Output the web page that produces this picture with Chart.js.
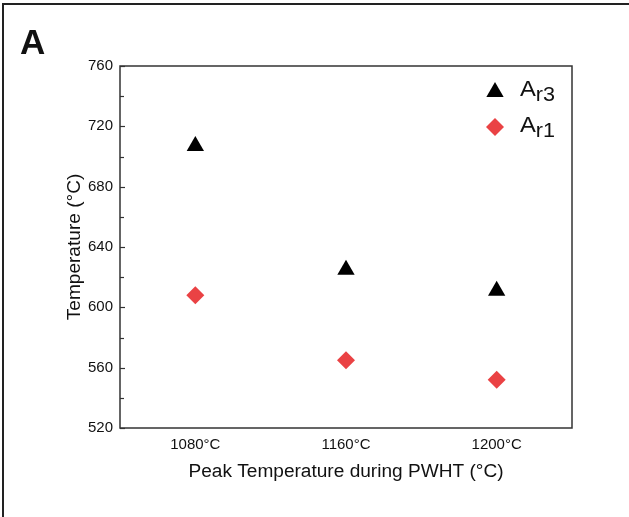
<!DOCTYPE html>
<html>
<head>
<meta charset="utf-8">
<script src="https://cdn.jsdelivr.net/npm/chart.js@4/dist/chart.umd.min.js"></script>
<style>
  html, body { margin: 0; padding: 0; background: #fff; }
  #wrap { width: 629px; height: 517px; position: relative; }
</style>
</head>
<body>
<div id="wrap"><canvas id="myChart" width="629" height="517"></canvas></div>
<script>
// peak temperatures and transformation points (°C)
var peakTemps = ['1080°C', '1160°C', '1200°C'];
var ar3 = [707, 625, 611];
var ar1 = [608, 565, 552];
var yTicks = [520, 560, 600, 640, 680, 720, 760];

var FONT = '"Liberation Sans", Arial, sans-serif';
var RED = '#ea4244';

// text drawn slightly widened, like the original export
function wideText(ctx, str, x, y, sx) {
    ctx.save();
    ctx.translate(x, y);
    ctx.scale(sx, 1);
    ctx.fillText(str, 0, 0);
    ctx.restore();
}

// frame, inward ticks, titles, panel letter and the in-plot key
var decorations = {
    id: 'decorations',
    afterDraw: function (chart) {
        var ctx = chart.ctx;
        var area = chart.chartArea;
        var y = chart.scales.y;
        ctx.save();

        // outer panel edges (top and left only)
        ctx.strokeStyle = '#222';
        ctx.lineWidth = 2;
        ctx.beginPath();
        ctx.moveTo(629, 4);
        ctx.lineTo(3, 4);
        ctx.lineTo(3, 517);
        ctx.stroke();

        // plot frame
        ctx.strokeStyle = '#333';
        ctx.lineWidth = 1.5;
        ctx.strokeRect(area.left, area.top, area.right - area.left, area.bottom - area.top);

        // ticks pointing into the plot
        ctx.lineWidth = 1.2;
        y.ticks.forEach(function (t) {
            var py = Math.round(y.getPixelForValue(t.value)) + 0.5;
            var len = (t.value % 40 === 0) ? 5 : 4;
            ctx.beginPath();
            ctx.moveTo(area.left, py);
            ctx.lineTo(area.left + len, py);
            ctx.stroke();
        });

        // axis titles
        ctx.fillStyle = '#111';
        ctx.font = '18px ' + FONT;
        ctx.textAlign = 'center';
        ctx.textBaseline = 'alphabetic';
        wideText(ctx, 'Peak Temperature during PWHT (°C)', (area.left + area.right) / 2, 477, 1.06);
        ctx.save();
        ctx.translate(80, (area.top + area.bottom) / 2);
        ctx.rotate(-Math.PI / 2);
        wideText(ctx, 'Temperature (°C)', 0, 0, 1.06);
        ctx.restore();

        // panel letter
        ctx.font = 'bold 35px ' + FONT;
        ctx.textAlign = 'left';
        ctx.fillText('A', 20, 54);

        // key: triangle for Ar3, diamond for Ar1
        ctx.fillStyle = '#000';
        ctx.beginPath();
        var tx = 495, ty = 92, r = 10;
        ctx.moveTo(tx, ty - r);
        ctx.lineTo(tx + r * 0.866, ty + r / 2);
        ctx.lineTo(tx - r * 0.866, ty + r / 2);
        ctx.closePath();
        ctx.fill();

        ctx.fillStyle = RED;
        ctx.beginPath();
        var dx = 495, dy = 127, d = 9;
        ctx.moveTo(dx, dy - d);
        ctx.lineTo(dx + d, dy);
        ctx.lineTo(dx, dy + d);
        ctx.lineTo(dx - d, dy);
        ctx.closePath();
        ctx.fill();

        ctx.fillStyle = '#111';
        var sx = 1.08;
        [['r3', 96], ['r1', 132]].forEach(function (row) {
            ctx.font = '22px ' + FONT;
            wideText(ctx, 'A', 520, row[1], sx);
            var w = ctx.measureText('A').width * sx;
            ctx.font = '20px ' + FONT;
            wideText(ctx, row[0], 520 + w, row[1] + 5, sx);
        });

        ctx.restore();
    }
};

var ctx = document.getElementById('myChart').getContext('2d');
new Chart(ctx, {
    type: 'line',
    data: {
        labels: peakTemps,
        datasets: [
            {
                label: 'Ar3',
                data: ar3,
                showLine: false,
                pointStyle: 'triangle',
                pointRadius: 10,
                pointBackgroundColor: '#000',
                pointBorderColor: '#000',
                pointBorderWidth: 0
            },
            {
                label: 'Ar1',
                data: ar1,
                showLine: false,
                pointStyle: 'rectRot',
                pointRadius: 9,
                pointBackgroundColor: RED,
                pointBorderColor: RED,
                pointBorderWidth: 0
            }
        ]
    },
    options: {
        responsive: false,
        animation: false,
        layout: { padding: { top: 66, right: 57, bottom: 0, left: 0 } },
        plugins: {
            legend: { display: false },
            tooltip: { enabled: false }
        },
        scales: {
            x: {
                offset: true,
                grid: { display: false, drawTicks: false },
                border: { display: false },
                ticks: { padding: 8, color: '#111', font: { family: FONT, size: 15 } },
                afterFit: function (scale) { scale.height = 89; }
            },
            y: {
                min: yTicks[0],
                max: yTicks[yTicks.length - 1],
                grid: { display: false, drawTicks: false },
                border: { display: false },
                ticks: {
                    stepSize: 20,
                    padding: 7,
                    color: '#111',
                    font: { family: FONT, size: 15 },
                    callback: function (v) { return yTicks.indexOf(v) >= 0 ? v : ''; }
                },
                afterFit: function (scale) { scale.width = 120; }
            }
        }
    },
    plugins: [decorations]
});
</script>
</body>
</html>
